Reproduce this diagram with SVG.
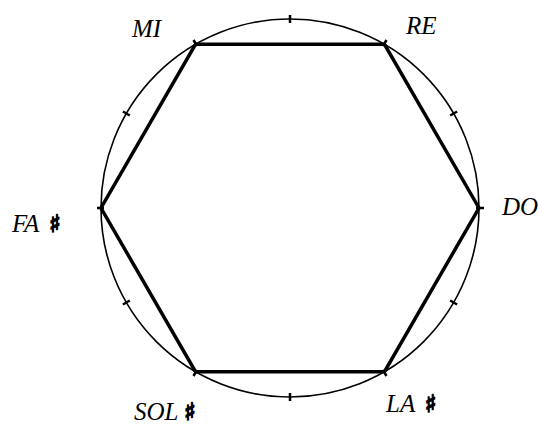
<svg xmlns="http://www.w3.org/2000/svg" width="538" height="425" viewBox="0 0 538 425">
<style>
.lbl{font-family:"Liberation Serif","DejaVu Serif",serif;font-style:italic;font-size:25px;fill:#000}
.sh{font-family:"DejaVu Sans",sans-serif;font-weight:bold;font-style:normal;font-size:24px;fill:#000;stroke:#000;stroke-width:1.5}
.tick{stroke:#000;stroke-width:2.5;fill:none}
</style>
<rect width="538" height="425" fill="#fff"/>
<g id="connectors">
<circle cx="290" cy="208" r="189" fill="none" stroke="#000" stroke-width="1.6"/>
<polygon points="479,208 384.5,44.3 195.5,44.3 101,208 195.5,371.7 384.5,371.7" fill="none" stroke="#000" stroke-width="3.5" stroke-linejoin="miter"/>
<g class="tick">
<line x1="290" y1="15" x2="290" y2="23"/>
<line x1="290" y1="393" x2="290" y2="401"/>
<line x1="450.2" y1="115.5" x2="457.1" y2="111.5"/>
<line x1="129.8" y1="115.5" x2="122.9" y2="111.5"/>
<line x1="450.2" y1="300.5" x2="457.1" y2="304.5"/>
<line x1="129.8" y1="300.5" x2="122.9" y2="304.5"/>
<line x1="476" y1="208" x2="484" y2="208"/>
<line x1="97" y1="208" x2="104" y2="208"/>
<line x1="197" y1="46" x2="193.5" y2="40"/>
<line x1="383" y1="46" x2="386.5" y2="40"/>
<line x1="197" y1="370" x2="193.5" y2="376"/>
<line x1="383" y1="370" x2="386.5" y2="376"/>
</g>
</g>
<g id="DO"><text class="lbl" x="502" y="215">DO</text></g>
<g id="RE"><text class="lbl" x="406" y="34">RE</text></g>
<g id="MI"><text class="lbl" x="132" y="37">MI</text></g>
<g id="FA"><text class="lbl" x="12" y="232">FA <tspan class="sh" dx="4">♯</tspan></text></g>
<g id="SOL"><text class="lbl" x="134" y="420">SOL <tspan class="sh">♯</tspan></text></g>
<g id="LA"><text class="lbl" x="386" y="412">LA <tspan class="sh" dx="4">♯</tspan></text></g>
</svg>
